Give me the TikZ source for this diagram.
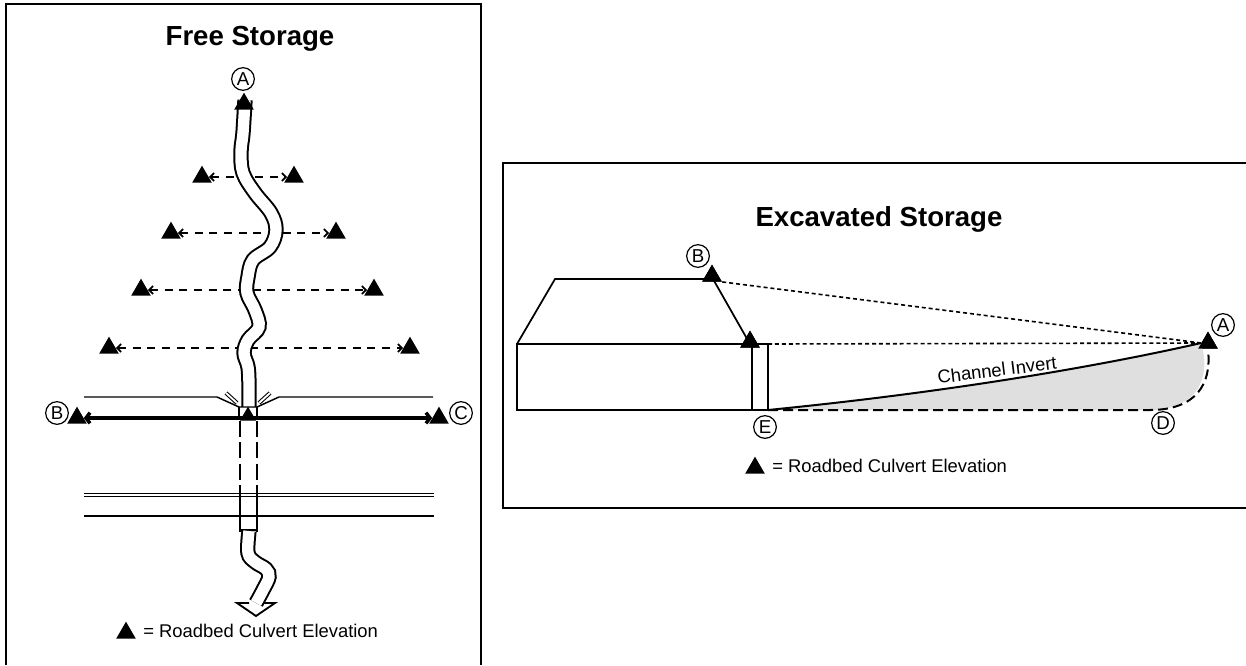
\documentclass[tikz,border=0pt]{standalone}
\usepackage{fontspec}
\setmainfont{Liberation Sans}
\usetikzlibrary{shapes.geometric,arrows.meta}

\begin{document}
\begin{tikzpicture}[x=0.75pt,y=0.75pt,yscale=-1,xscale=1,
  tri/.style={regular polygon,regular polygon sides=3,fill=black,inner sep=0pt,minimum size=17pt},
  lbl/.style={circle,draw,line width=0.9pt,inner sep=0pt,minimum size=17pt,font=\fontsize{14}{14}\selectfont},
  frm/.style={line width=1.6pt},
  ttl/.style={anchor=base,inner sep=0pt,font=\fontsize{20.7}{24}\selectfont\bfseries},
  txt/.style={inner sep=0pt,font=\fontsize{13.8}{16}\selectfont},
  reach/.style={dash pattern={on 6pt off 5pt},line width=1.3pt,{Straight Barb[length=3pt,width=6pt]}-{Straight Barb[length=3pt,width=6pt]}},
  chan/.style={double,double distance=8.5pt,line width=1.5pt},
  road/.style={line width=1.1pt},
  dots/.style={dash pattern={on 3pt off 2.2pt},line width=1.2pt},
  limit/.style={dash pattern={on 7.5pt off 3.75pt},line width=1.5pt}
]
\useasboundingbox (0,0) rectangle (1246,665);

%Frames
\draw [frm] (6,665) -- (6,4) -- (481,4) -- (481,665) ;
\draw [frm] (1246,163) -- (503,163) -- (503,508) -- (1246,508) ;

% Text Node
\node [ttl] (ttlFree) at (250,45) {Free Storage};
\node [ttl] (ttlExc) at (879,226) {Excavated Storage};

%Reach lines (left)
\node [tri] (tL1) at (202,177) {};
\node [tri] (tR1) at (294,177) {};
\node [tri] (tL2) at (171,233) {};
\node [tri] (tR2) at (336,233) {};
\node [tri] (tL3) at (141,290) {};
\node [tri] (tR3) at (374,290) {};
\node [tri] (tL4) at (109,348) {};
\node [tri] (tR4) at (410,348) {};
\draw [reach] (tL1) -- (tR1) ;
\draw [reach] (tL2) -- (tR2) ;
\draw [reach] (tL3) -- (tR3) ;
\draw [reach] (tL4) -- (tR4) ;

%Channel
\draw [chan] plot [smooth,tension=0.6] coordinates {(245,100) (243,133) (241,152) (243,173) (255,193) (271,213) (276,230) (270,247) (253,260) (248,277) (247,293) (255,310) (259,327) (248,340) (244,353) (248,367) (249,385) (249,407)} ;
\node [tri] (tA) at (244,104) {};
\node [lbl] (cA) at (243,79) {A};

%Road
\draw [road] (84,397) -- (217,397) -- (239,407) -- (257,407) -- (279,397) -- (433,397) ;
\draw [double,double distance=1.4pt,line width=0.8pt] (226,393) -- (237,403) ;
\draw [double,double distance=1.4pt,line width=0.8pt] (270,393) -- (259,403) ;
\draw [road] (239,407) -- (239,419) (257,407) -- (257,419) ;
\node [tri] (tB) at (77,418) {};
\node [tri] (tC) at (439,418) {};
\draw [line width=2.6pt,{Straight Barb[length=3pt,width=8pt]}-{Straight Barb[length=3pt,width=8pt]}] (tB) -- (tC) ;
\node [tri,minimum size=14pt] (tCulv) at (248,416) {};
\node [lbl] (cB) at (57,413) {B};
\node [lbl] (cC) at (461,413) {C};
\draw [double,double distance=1.5pt,line width=0.9pt] (84,495) -- (434,495) ;
\draw [road] (84,516) -- (434,516) ;

%Culvert
\draw [dash pattern={on 12pt off 4pt},line width=1.2pt] (240,421) -- (240,494) (257,421) -- (257,494) ;
\draw [line width=1.2pt] (240,494) -- (240,532) (257,494) -- (257,532) ;
\draw [line width=2.2pt] (240,530) -- (257,530) ;
\draw [chan] plot [smooth,tension=0.6] coordinates {(249,531) (248,553) (255,562) (266,569) (269,577) (263,590) (256,603)} ;
\draw [line width=1.4pt,line join=miter] (249,603) -- (237,603) -- (256,616) -- (275,603) -- (263,603) ;

% Text Node
\node [tri] (keyL) at (126,633) {};
\node [txt,anchor=base west] (keyTxtL) at (143,637) {= Roadbed Culvert Elevation};

%Excavated storage
\coordinate (E) at (768,410);
\coordinate (topE) at (768,344);
\coordinate (D) at (1150,410);
\coordinate (crest) at (713,279);
\node [tri] (rB) at (712,276) {};
\node [tri] (rCulv) at (750,342) {};
\node [tri] (rA) at (1208,343) {};
\fill [gray!25] (E) .. controls (950,392) and (1100,366) .. (rA.west) .. controls (1212,380) and (1195,410) .. (D) -- cycle ;
\draw [line width=1.3pt] (517,344) -- (555,279) -- (crest) -- (750,344) ;
\draw [line width=1.3pt] (517,344) rectangle (E) (752,344) -- (752,410) (topE) -- (E) ;
\draw [dots] (rB.corner 3) -- (rA.west) ;
\draw [dots] (topE) -- (rA.west) ;
\draw [line width=1.5pt] (E) .. controls (950,392) and (1100,366) .. (rA.west) ;
\draw [limit] (E) -- (D) .. controls (1195,410) and (1212,385) .. (1208,350) ;
\node [tri] at (rB) {};
\node [tri] at (rCulv) {};
\node [tri] at (rA) {};
\node [txt,rotate=7] (inv) at (997,370) {Channel Invert};
\node [lbl] (rcB) at (698,256) {B};
\node [lbl] (rcA) at (1223,325) {A};
\node [lbl] (rcD) at (1163,423) {D};
\node [lbl] (rcE) at (765,427) {E};

% Text Node
\node [tri] (keyR) at (755,468) {};
\node [txt,anchor=base west] (keyTxtR) at (772,472) {= Roadbed Culvert Elevation};

\end{tikzpicture}
\end{document}
